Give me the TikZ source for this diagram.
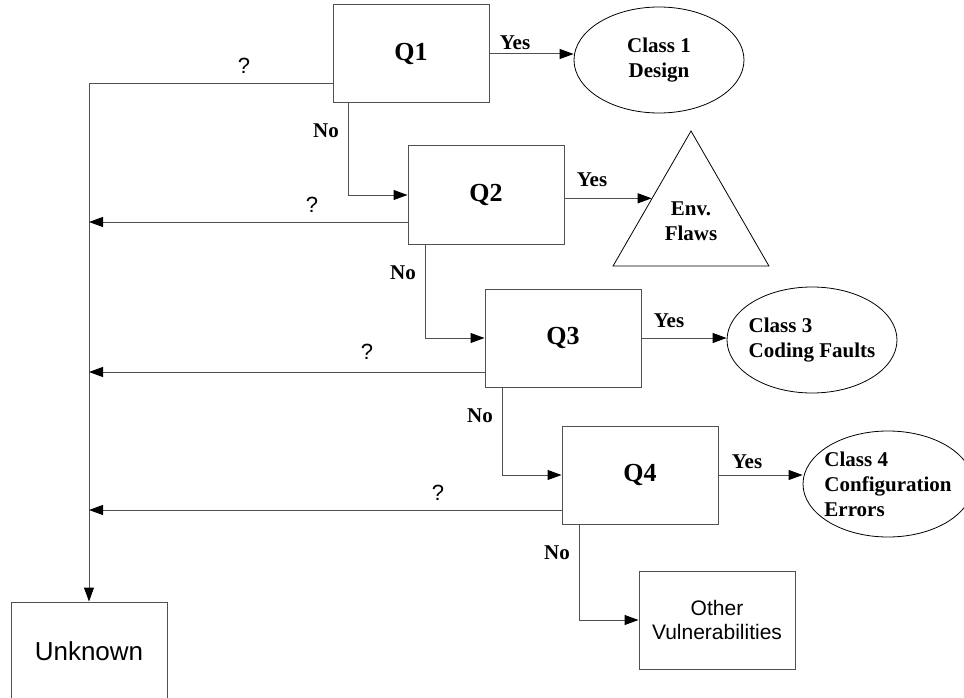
\documentclass[tikz,border=0pt]{standalone}
\usepackage{fontspec}
\setmainfont{Liberation Serif}
\setsansfont{Liberation Sans}
\usetikzlibrary{shapes.geometric, arrows.meta, positioning, calc}
\definecolor{linecolor}{RGB}{80, 80, 80}

\begin{document}
\begin{tikzpicture}[
    x=1pt, y=-1pt,
    >={Triangle[length=14pt, width=10pt, color=black]},
    qbox/.style={rectangle, draw=linecolor, line width=1pt, minimum width=156pt, minimum height=98pt, font=\fontsize{26}{30}\selectfont\bfseries},
    endbox/.style={rectangle, draw=linecolor, line width=1pt, minimum width=156pt, minimum height=98pt, align=center, font=\sffamily\fontsize{21}{24}\selectfont},
    classnode/.style={ellipse, draw, line width=0.8pt, minimum width=170pt, minimum height=106pt, inner sep=0pt, inner xsep=-4pt, font=\fontsize{21}{25}\selectfont\bfseries},
    arrow/.style={->, draw=linecolor, line width=1pt},
    tag/.style={font=\fontsize{21}{25}\selectfont\bfseries},
    qmark/.style={font=\sffamily\fontsize{22}{26}\selectfont}
]

\useasboundingbox (0, 0) rectangle (964, 698);

% Questions
\node[qbox] (q1) at (411, 54) {Q1};
\node[qbox] (q2) at (486, 195) {Q2};
\node[qbox] (q3) at (563, 338) {Q3};
\node[qbox] (q4) at (640, 475) {Q4};

% Classes
\node[classnode, align=center] (class1) at (659, 60) {Class 1\\Design};
\node[regular polygon, regular polygon sides=3, draw, line width=0.8pt, minimum size=180pt, inner sep=0pt, tag, align=center] (env) at (691, 221) {Env.\\Flaws};
\node[classnode, align=left] (class3) at (812, 340) {Class 3\\Coding Faults};
\node[classnode, align=left] (class4) at (888, 484) {Class 4\\Configuration\\Errors};

% End boxes
\node[endbox] (other) at (717, 620) {Other\\Vulnerabilities};
\node[endbox, font=\sffamily\fontsize{26}{30}\selectfont] (unknown) at (89, 651) {Unknown};

% Yes arrows
\draw[arrow] (q1.east) -- (q1.east -| class1.west);
\draw[arrow] (q2.east |- env.side 1) -- (env.side 1);
\draw[arrow] (q3.east) -- (q3.east -| class3.west);
\draw[arrow] (q4.east) -- (q4.east -| class4.west);

% No arrows
\draw[arrow] ([xshift=16pt]q1.south west) |- (q2.west);
\draw[arrow] ([xshift=18pt]q2.south west) |- (q3.west);
\draw[arrow] ([xshift=18pt]q3.south west) |- (q4.west);
\draw[arrow] ([xshift=18pt]q4.south west) |- (other.west);

% Unknown arrows
\draw[arrow] ([yshift=-30pt]q1.west) -| (unknown.north);
\draw[arrow] ([yshift=-27pt]q2.west) -- ([yshift=-27pt]q2.west -| unknown.north);
\draw[arrow] ([yshift=-34pt]q3.west) -- ([yshift=-34pt]q3.west -| unknown.north);
\draw[arrow] ([yshift=-35pt]q4.west) -- ([yshift=-35pt]q4.west -| unknown.north);

% Labels
\node[tag] (yes1) at (515, 43) {Yes};
\node[tag] (yes2) at (592, 180) {Yes};
\node[tag] (yes3) at (669, 321) {Yes};
\node[tag] (yes4) at (747, 462) {Yes};
\node[tag] (no1) at (326, 131) {No};
\node[tag] (no2) at (403, 273) {No};
\node[tag] (no3) at (480, 416) {No};
\node[tag] (no4) at (557, 553) {No};
\node[qmark] (unk1) at (244, 66) {?};
\node[qmark] (unk2) at (312, 205) {?};
\node[qmark] (unk3) at (367, 352) {?};
\node[qmark] (unk4) at (438, 493) {?};

\end{tikzpicture}
\end{document}
